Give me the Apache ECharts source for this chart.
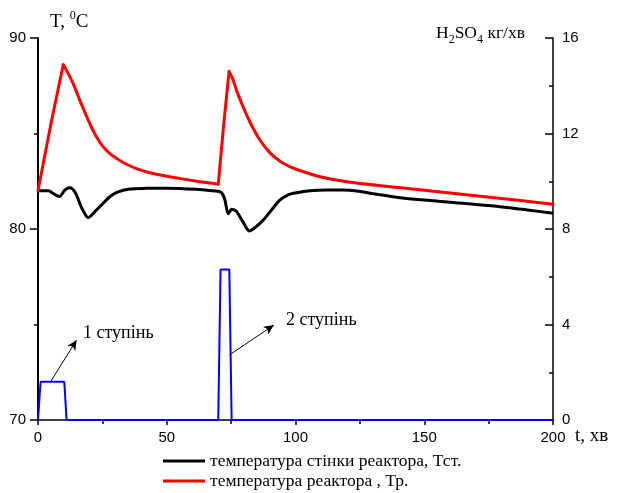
<!DOCTYPE html>
<html>
<head>
<meta charset="utf-8">
<script src="https://cdn.jsdelivr.net/npm/echarts@6/dist/echarts.min.js"></script>
<style>
  html, body { margin: 0; padding: 0; background: #fff; }
  #chart { width: 617px; height: 493px; }
</style>
</head>
<body>
<div id="chart"></div>
<script>
// температура реактора, Тр (t, хв ; T, °C) - ділянки зростання і спаду
var reactorRise1 = [[0, 82.0], [5, 85.5], [9.8, 88.6]];
var reactorFall1 = [
    [9.8, 88.6], [11.5, 88.2], [13.7, 87.6], [17.6, 86.3], [22.8, 84.8], [27.5, 84.0],
    [35, 83.35], [42, 83.0], [48.6, 82.8], [55, 82.65], [61.6, 82.5], [70, 82.35]
];
var reactorRise2 = [[70, 82.35], [72, 85.3], [74.2, 88.25]];
var reactorFall2 = [
    [74.2, 88.25], [75.5, 87.9], [77, 87.3], [79, 86.6], [82.3, 85.6], [86, 84.7],
    [90, 84.0], [94, 83.55], [98, 83.25], [102, 83.05], [110, 82.72], [120, 82.47],
    [140, 82.17], [160, 81.88], [180, 81.6], [200, 81.3]
];

// температура стінки реактора, Тст
var wallTemp = [
    [0, 82.0], [4, 82.0], [6, 81.85], [8.3, 81.7], [10.5, 82.05], [12.4, 82.16],
    [14.5, 81.9], [17, 81.1], [19.5, 80.6], [22, 80.9], [25.4, 81.36], [28, 81.7],
    [30.6, 81.92], [35.7, 82.09], [42, 82.13], [50, 82.14], [61.6, 82.08], [68, 82.0],
    [70.7, 81.95], [71.8, 81.8], [72.6, 81.52], [73.9, 80.8], [75.2, 81.03], [76.2, 81.0],
    [77.2, 80.9], [79.5, 80.4], [82.1, 79.9], [84.5, 80.1], [87.5, 80.47], [91, 81.05],
    [94, 81.52], [97, 81.78], [100.5, 81.9], [105.6, 82.0], [112, 82.04], [118.4, 82.04],
    [123.8, 81.99], [130, 81.85], [140.6, 81.64], [160, 81.4], [179.4, 81.17], [190, 81.0],
    [200, 80.82]
];

// подача H2SO4, кг/хв
var acidFeed = [
    [0, 0], [1, 1.6], [10.2, 1.6], [11.1, 0], [70, 0], [70.9, 6.3], [74.3, 6.3], [75.2, 0], [200, 0]
];

// стрілки до підписів "1 ступінь", "2 ступінь" (в координатах даних)
var stageArrows = [
    [[5.05, 72.04], [15.0, 74.19]],
    [[74.3, 73.4], [91.6, 74.97]]
];

var legendNames = ['температура стінки реактора, Тст.', 'температура реактора , Тр.'];

var serif = '"Liberation Serif", "Times New Roman", serif';
var sans = '"Liberation Sans", Arial, sans-serif';

var myChart = echarts.init(document.getElementById('chart'));

function legendRow(name, top) {
    return {
        left: 163,
        top: top,
        itemWidth: 42,
        itemHeight: 3,
        icon: 'rect',
        padding: 0,
        data: [name],
        textStyle: {fontFamily: serif, fontSize: 17.5, color: '#000'}
    };
}

function redPart(data, smooth) {
    return {
        name: legendNames[1],
        type: 'line',
        yAxisIndex: 0,
        data: data,
        smooth: smooth,
        symbol: 'none',
        color: '#ff0000',
        lineStyle: {color: '#ff0000', width: 3, cap: 'round', join: 'round'},
        z: 3
    };
}

var option = {
    animation: false,
    backgroundColor: '#fff',
    grid: {left: 38, right: 64, top: 38, bottom: 73},
    legend: [legendRow(legendNames[0], 452), legendRow(legendNames[1], 472)],
    xAxis: {
        type: 'value',
        min: 0,
        max: 200,
        interval: 50,
        axisLine: {onZero: false, lineStyle: {color: '#000', width: 1.5}},
        axisTick: {length: 5, lineStyle: {color: '#000', width: 1.5}},
        minorTick: {show: true, splitNumber: 2, length: 4, lineStyle: {color: '#000', width: 1.5}},
        axisLabel: {color: '#000', fontFamily: sans, fontSize: 15, margin: 10},
        splitLine: {show: false}
    },
    yAxis: [
        {
            type: 'value',
            min: 70,
            max: 90,
            interval: 10,
            axisLine: {show: true, onZero: false, lineStyle: {color: '#000', width: 2}},
            axisTick: {show: true, length: 8, lineStyle: {color: '#000', width: 1.5}},
            minorTick: {show: true, splitNumber: 2, length: 4, lineStyle: {color: '#000', width: 1.5}},
            axisLabel: {color: '#000', fontFamily: sans, fontSize: 15, margin: 12},
            splitLine: {show: false}
        },
        {
            type: 'value',
            position: 'right',
            min: 0,
            max: 16,
            interval: 4,
            axisLine: {show: true, onZero: false, lineStyle: {color: '#000', width: 1.5}},
            axisTick: {show: true, inside: true, length: 8, lineStyle: {color: '#000', width: 1.5}},
            minorTick: {show: true, splitNumber: 2, length: 4, lineStyle: {color: '#000', width: 1.5}},
            axisLabel: {color: '#000', fontFamily: sans, fontSize: 15, margin: 9},
            splitLine: {show: false}
        }
    ],
    series: [
        {
            name: legendNames[0],
            type: 'line',
            yAxisIndex: 0,
            data: wallTemp,
            smooth: 0.3,
            symbol: 'none',
            color: '#000',
            lineStyle: {color: '#000', width: 3},
            z: 3,
            markLine: {
                silent: true,
                symbol: ['none', 'arrow'],
                symbolSize: [7, 10],
                label: {show: false},
                lineStyle: {color: '#000', width: 1, type: 'solid'},
                data: stageArrows.map(function (a) {
                    return [{coord: a[0]}, {coord: a[1]}];
                })
            }
        },
        redPart(reactorRise1, false),
        redPart(reactorFall1, 0.4),
        redPart(reactorRise2, false),
        redPart(reactorFall2, 0.4),
        {
            name: 'H2SO4',
            type: 'line',
            yAxisIndex: 1,
            data: acidFeed,
            symbol: 'none',
            clip: false,
            color: '#0000ff',
            lineStyle: {color: '#0000ff', width: 2},
            z: 4
        }
    ],
    graphic: [
        {
            type: 'text', x: 50, y: 10,
            style: {
                text: '{a|T, }{s|0}{a|C}',
                fill: '#000',
                rich: {
                    a: {fontFamily: serif, fontSize: 19, verticalAlign: 'bottom', lineHeight: 22},
                    s: {fontFamily: serif, fontSize: 12, verticalAlign: 'top', lineHeight: 22}
                }
            }
        },
        {
            type: 'text', x: 436, y: 24,
            style: {
                text: '{a|H}{b|2}{a|SO}{b|4}{a| кг/хв}',
                fill: '#000',
                rich: {
                    a: {fontFamily: serif, fontSize: 17.5, verticalAlign: 'top', lineHeight: 22},
                    b: {fontFamily: serif, fontSize: 12, verticalAlign: 'bottom', lineHeight: 22}
                }
            }
        },
        {
            type: 'text', x: 575, y: 436,
            style: {text: 't, хв', font: '19px ' + serif, fill: '#000', verticalAlign: 'middle'}
        },
        {
            type: 'text', x: 83, y: 333,
            style: {text: '1 ступінь', font: '18px ' + serif, fill: '#000', verticalAlign: 'middle'}
        },
        {
            type: 'text', x: 286, y: 320,
            style: {text: '2 ступінь', font: '18px ' + serif, fill: '#000', verticalAlign: 'middle'}
        }
    ]
};

myChart.setOption(option);
</script>
</body>
</html>
